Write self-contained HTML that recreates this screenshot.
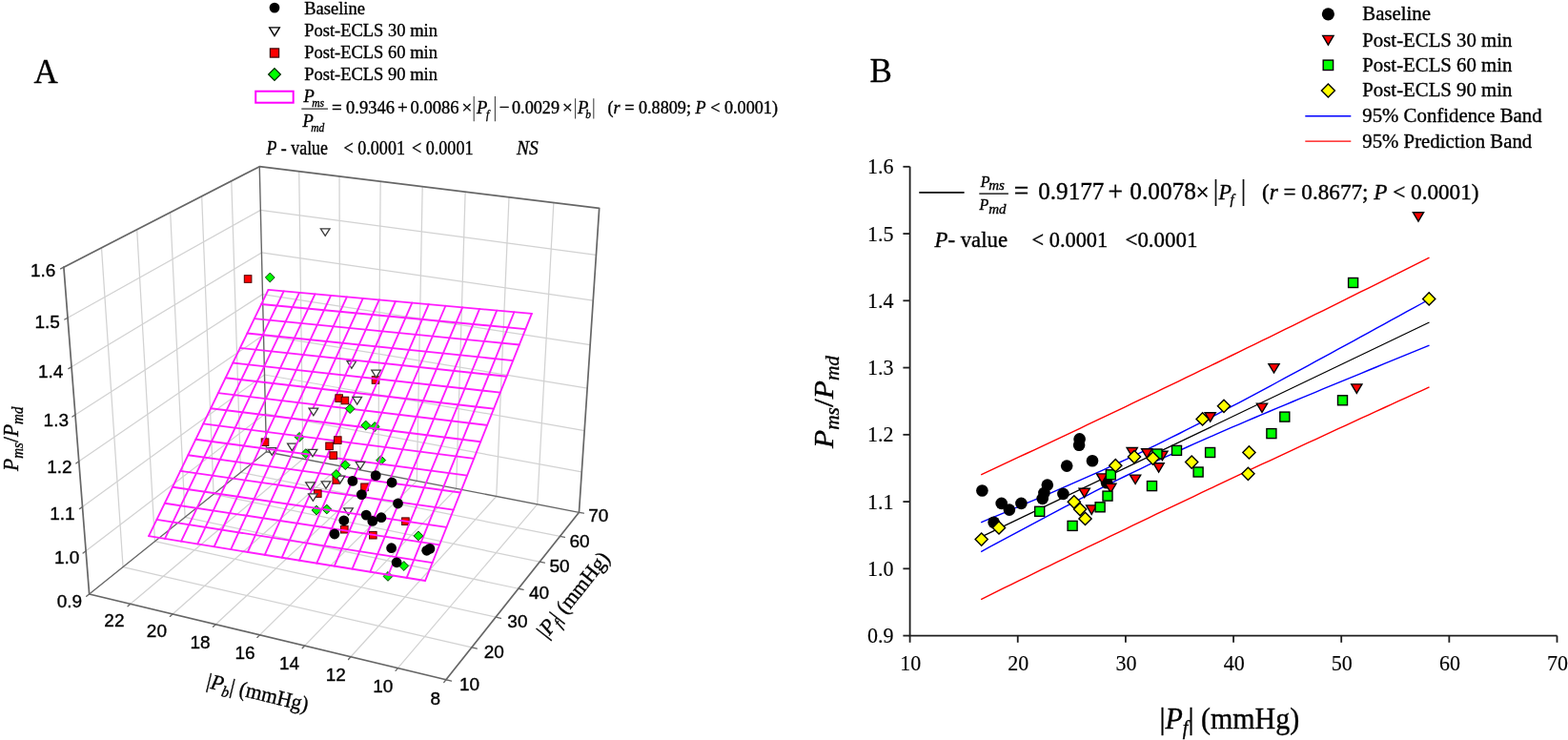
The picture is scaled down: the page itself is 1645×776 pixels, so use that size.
<!DOCTYPE html>
<html><head><meta charset="utf-8"><style>html,body{margin:0;padding:0;background:#fff}svg{display:block}</style></head>
<body><svg width="1645" height="776" viewBox="0 0 1645 776">
<rect width="1645" height="776" fill="#fff"/>
<style>text{stroke:#000;stroke-width:0.35px;paint-order:stroke}</style>
<g stroke-linecap="round">
<line x1="136.89" y1="633.35" x2="317.85" y2="481.18" stroke="#d2d2d2" stroke-width="1.25"/>
<line x1="181.10" y1="643.95" x2="356.94" y2="488.76" stroke="#d2d2d2" stroke-width="1.25"/>
<line x1="226.27" y1="654.79" x2="396.75" y2="496.47" stroke="#d2d2d2" stroke-width="1.25"/>
<line x1="272.45" y1="665.86" x2="437.31" y2="504.33" stroke="#d2d2d2" stroke-width="1.25"/>
<line x1="319.67" y1="677.19" x2="478.64" y2="512.33" stroke="#d2d2d2" stroke-width="1.25"/>
<line x1="367.96" y1="688.77" x2="520.76" y2="520.49" stroke="#d2d2d2" stroke-width="1.25"/>
<line x1="417.37" y1="700.62" x2="563.70" y2="528.81" stroke="#d2d2d2" stroke-width="1.25"/>
<line x1="129.06" y1="594.54" x2="494.82" y2="678.92" stroke="#d2d2d2" stroke-width="1.25"/>
<line x1="162.50" y1="567.68" x2="520.09" y2="647.16" stroke="#d2d2d2" stroke-width="1.25"/>
<line x1="194.13" y1="542.28" x2="543.86" y2="617.26" stroke="#d2d2d2" stroke-width="1.25"/>
<line x1="224.08" y1="518.23" x2="566.28" y2="589.08" stroke="#d2d2d2" stroke-width="1.25"/>
<line x1="252.49" y1="495.42" x2="587.45" y2="562.46" stroke="#d2d2d2" stroke-width="1.25"/>
<line x1="129.06" y1="594.54" x2="106.49" y2="259.84" stroke="#d2d2d2" stroke-width="1.25"/>
<line x1="162.50" y1="567.68" x2="143.68" y2="240.72" stroke="#d2d2d2" stroke-width="1.25"/>
<line x1="194.13" y1="542.28" x2="178.68" y2="222.74" stroke="#d2d2d2" stroke-width="1.25"/>
<line x1="224.08" y1="518.23" x2="211.66" y2="205.79" stroke="#d2d2d2" stroke-width="1.25"/>
<line x1="252.49" y1="495.42" x2="242.80" y2="189.78" stroke="#d2d2d2" stroke-width="1.25"/>
<line x1="90.11" y1="577.79" x2="278.51" y2="433.82" stroke="#d2d2d2" stroke-width="1.25"/>
<line x1="86.49" y1="531.42" x2="277.52" y2="393.00" stroke="#d2d2d2" stroke-width="1.25"/>
<line x1="82.78" y1="483.82" x2="276.52" y2="351.28" stroke="#d2d2d2" stroke-width="1.25"/>
<line x1="78.96" y1="434.96" x2="275.49" y2="308.61" stroke="#d2d2d2" stroke-width="1.25"/>
<line x1="75.05" y1="384.77" x2="274.43" y2="264.97" stroke="#d2d2d2" stroke-width="1.25"/>
<line x1="71.02" y1="333.20" x2="273.35" y2="220.33" stroke="#d2d2d2" stroke-width="1.25"/>
<line x1="317.85" y1="481.18" x2="313.72" y2="179.74" stroke="#d2d2d2" stroke-width="1.25"/>
<line x1="356.94" y1="488.76" x2="356.02" y2="184.93" stroke="#d2d2d2" stroke-width="1.25"/>
<line x1="396.75" y1="496.47" x2="399.17" y2="190.23" stroke="#d2d2d2" stroke-width="1.25"/>
<line x1="437.31" y1="504.33" x2="443.20" y2="195.63" stroke="#d2d2d2" stroke-width="1.25"/>
<line x1="478.64" y1="512.33" x2="488.14" y2="201.15" stroke="#d2d2d2" stroke-width="1.25"/>
<line x1="520.76" y1="520.49" x2="534.01" y2="206.78" stroke="#d2d2d2" stroke-width="1.25"/>
<line x1="563.70" y1="528.81" x2="580.85" y2="212.53" stroke="#d2d2d2" stroke-width="1.25"/>
<line x1="278.51" y1="433.82" x2="610.28" y2="494.95" stroke="#d2d2d2" stroke-width="1.25"/>
<line x1="277.52" y1="393.00" x2="613.17" y2="451.60" stroke="#d2d2d2" stroke-width="1.25"/>
<line x1="276.52" y1="351.28" x2="616.12" y2="407.20" stroke="#d2d2d2" stroke-width="1.25"/>
<line x1="275.49" y1="308.61" x2="619.14" y2="361.73" stroke="#d2d2d2" stroke-width="1.25"/>
<line x1="274.43" y1="264.97" x2="622.24" y2="315.13" stroke="#d2d2d2" stroke-width="1.25"/>
<line x1="273.35" y1="220.33" x2="625.42" y2="267.37" stroke="#d2d2d2" stroke-width="1.25"/>
<polyline points="66.88,280.19 93.64,622.98 467.92,712.75 607.47,537.29 628.68,218.40 272.25,174.65 66.88,280.19" fill="none" stroke="#666666" stroke-width="1.7" stroke-linejoin="round"/>
<line x1="93.64" y1="622.98" x2="279.47" y2="473.75" stroke="#666666" stroke-width="1.3"/>
<line x1="279.47" y1="473.75" x2="607.47" y2="537.29" stroke="#666666" stroke-width="1.3"/>
<line x1="279.47" y1="473.75" x2="272.25" y2="174.65" stroke="#666666" stroke-width="1.4"/>
<line x1="93.64" y1="622.98" x2="90.71" y2="625.33" stroke="#666666" stroke-width="1.3"/>
<line x1="90.11" y1="577.79" x2="87.14" y2="580.06" stroke="#666666" stroke-width="1.3"/>
<line x1="86.49" y1="531.42" x2="83.47" y2="533.60" stroke="#666666" stroke-width="1.3"/>
<line x1="82.78" y1="483.82" x2="79.71" y2="485.92" stroke="#666666" stroke-width="1.3"/>
<line x1="78.96" y1="434.96" x2="75.84" y2="436.96" stroke="#666666" stroke-width="1.3"/>
<line x1="75.05" y1="384.77" x2="71.88" y2="386.67" stroke="#666666" stroke-width="1.3"/>
<line x1="71.02" y1="333.20" x2="67.80" y2="335.00" stroke="#666666" stroke-width="1.3"/>
<line x1="66.88" y1="280.19" x2="63.60" y2="281.88" stroke="#666666" stroke-width="1.3"/>
<line x1="136.89" y1="633.35" x2="134.04" y2="635.75" stroke="#666666" stroke-width="1.3"/>
<line x1="181.10" y1="643.95" x2="178.32" y2="646.40" stroke="#666666" stroke-width="1.3"/>
<line x1="226.27" y1="654.79" x2="223.57" y2="657.29" stroke="#666666" stroke-width="1.3"/>
<line x1="272.45" y1="665.86" x2="269.84" y2="668.42" stroke="#666666" stroke-width="1.3"/>
<line x1="319.67" y1="677.19" x2="317.14" y2="679.80" stroke="#666666" stroke-width="1.3"/>
<line x1="367.96" y1="688.77" x2="365.53" y2="691.45" stroke="#666666" stroke-width="1.3"/>
<line x1="417.37" y1="700.62" x2="415.04" y2="703.36" stroke="#666666" stroke-width="1.3"/>
<line x1="467.92" y1="712.75" x2="465.70" y2="715.55" stroke="#666666" stroke-width="1.3"/>
<line x1="467.92" y1="712.75" x2="473.56" y2="714.10" stroke="#666666" stroke-width="1.3"/>
<line x1="494.82" y1="678.92" x2="500.31" y2="680.19" stroke="#666666" stroke-width="1.3"/>
<line x1="520.09" y1="647.16" x2="525.44" y2="648.35" stroke="#666666" stroke-width="1.3"/>
<line x1="543.86" y1="617.26" x2="549.09" y2="618.38" stroke="#666666" stroke-width="1.3"/>
<line x1="566.28" y1="589.08" x2="571.38" y2="590.13" stroke="#666666" stroke-width="1.3"/>
<line x1="587.45" y1="562.46" x2="592.43" y2="563.46" stroke="#666666" stroke-width="1.3"/>
<line x1="607.47" y1="537.29" x2="612.33" y2="538.23" stroke="#666666" stroke-width="1.3"/>
</g>
<path d="M364.10,378.70L373.70,378.70L368.90,386.30Z" fill="#fff" stroke="#3a3a3a" stroke-width="1.3" stroke-linejoin="miter"/>
<rect x="390.20" y="394.70" width="7.6" height="7.6" fill="#ff0000" stroke="#4a0000" stroke-width="1.0"/>
<rect x="274.20" y="459.90" width="7.6" height="7.6" fill="#ff0000" stroke="#4a0000" stroke-width="1.0"/>
<path d="M314.10,453.50L319.00,458.40L314.10,463.30L309.20,458.40Z" fill="#00ff00" stroke="#0a3a0a" stroke-width="1.0"/>
<path d="M301.60,465.10L311.20,465.10L306.40,472.70Z" fill="#fff" stroke="#3a3a3a" stroke-width="1.3" stroke-linejoin="miter"/>
<path d="M280.50,469.70L290.10,469.70L285.30,477.30Z" fill="#fff" stroke="#3a3a3a" stroke-width="1.3" stroke-linejoin="miter"/>
<path d="M320.80,470.70L325.70,475.60L320.80,480.50L315.90,475.60Z" fill="#00ff00" stroke="#0a3a0a" stroke-width="1.0"/>
<path d="M393.20,442.60L398.10,447.50L393.20,452.40L388.30,447.50Z" fill="#00ff00" stroke="#0a3a0a" stroke-width="1.0"/>
<path d="M399.70,477.70L404.60,482.60L399.70,487.50L394.80,482.60Z" fill="#00ff00" stroke="#0a3a0a" stroke-width="1.0"/>
<path d="M332.00,530.10L336.90,535.00L332.00,539.90L327.10,535.00Z" fill="#00ff00" stroke="#0a3a0a" stroke-width="1.0"/>
<path d="M342.80,529.10L347.70,534.00L342.80,538.90L337.90,534.00Z" fill="#00ff00" stroke="#0a3a0a" stroke-width="1.0"/>
<path d="M360.70,532.80L370.30,532.80L365.50,540.40Z" fill="#fff" stroke="#3a3a3a" stroke-width="1.3" stroke-linejoin="miter"/>
<rect x="421.60" y="542.90" width="7.6" height="7.6" fill="#ff0000" stroke="#4a0000" stroke-width="1.0"/>
<rect x="387.50" y="557.40" width="7.6" height="7.6" fill="#ff0000" stroke="#4a0000" stroke-width="1.0"/>
<path d="M407.00,599.50L411.90,604.40L407.00,609.30L402.10,604.40Z" fill="#00ff00" stroke="#0a3a0a" stroke-width="1.0"/>
<rect x="357.50" y="551.40" width="7.6" height="7.6" fill="#ff0000" stroke="#4a0000" stroke-width="1.0"/>
<rect x="378.70" y="507.00" width="7.6" height="7.6" fill="#ff0000" stroke="#4a0000" stroke-width="1.0"/>
<g stroke-linecap="round">
<line x1="156.07" y1="562.20" x2="281.50" y2="303.94" stroke="#ff1cff" stroke-width="1.85"/>
<line x1="446.08" y1="608.97" x2="156.07" y2="562.20" stroke="#ff1cff" stroke-width="1.85"/>
<line x1="172.99" y1="564.93" x2="297.71" y2="305.40" stroke="#ff1cff" stroke-width="1.85"/>
<line x1="453.61" y1="590.10" x2="164.48" y2="544.89" stroke="#ff1cff" stroke-width="1.85"/>
<line x1="190.05" y1="567.68" x2="314.05" y2="306.88" stroke="#ff1cff" stroke-width="1.85"/>
<line x1="461.06" y1="571.42" x2="172.81" y2="527.74" stroke="#ff1cff" stroke-width="1.85"/>
<line x1="207.27" y1="570.46" x2="330.52" y2="308.37" stroke="#ff1cff" stroke-width="1.85"/>
<line x1="468.44" y1="552.93" x2="181.06" y2="510.75" stroke="#ff1cff" stroke-width="1.85"/>
<line x1="224.65" y1="573.26" x2="347.13" y2="309.87" stroke="#ff1cff" stroke-width="1.85"/>
<line x1="475.75" y1="534.63" x2="189.23" y2="493.93" stroke="#ff1cff" stroke-width="1.85"/>
<line x1="242.18" y1="576.09" x2="363.88" y2="311.38" stroke="#ff1cff" stroke-width="1.85"/>
<line x1="482.97" y1="516.53" x2="197.32" y2="477.27" stroke="#ff1cff" stroke-width="1.85"/>
<line x1="259.87" y1="578.94" x2="380.77" y2="312.91" stroke="#ff1cff" stroke-width="1.85"/>
<line x1="490.13" y1="498.60" x2="205.34" y2="460.76" stroke="#ff1cff" stroke-width="1.85"/>
<line x1="277.73" y1="581.82" x2="397.81" y2="314.45" stroke="#ff1cff" stroke-width="1.85"/>
<line x1="497.21" y1="480.86" x2="213.28" y2="444.41" stroke="#ff1cff" stroke-width="1.85"/>
<line x1="295.75" y1="584.73" x2="414.98" y2="316.00" stroke="#ff1cff" stroke-width="1.85"/>
<line x1="504.22" y1="463.29" x2="221.14" y2="428.22" stroke="#ff1cff" stroke-width="1.85"/>
<line x1="313.93" y1="587.66" x2="432.31" y2="317.57" stroke="#ff1cff" stroke-width="1.85"/>
<line x1="511.16" y1="445.91" x2="228.94" y2="412.18" stroke="#ff1cff" stroke-width="1.85"/>
<line x1="332.28" y1="590.62" x2="449.78" y2="319.14" stroke="#ff1cff" stroke-width="1.85"/>
<line x1="518.03" y1="428.69" x2="236.66" y2="396.28" stroke="#ff1cff" stroke-width="1.85"/>
<line x1="350.81" y1="593.61" x2="467.41" y2="320.74" stroke="#ff1cff" stroke-width="1.85"/>
<line x1="524.83" y1="411.65" x2="244.30" y2="380.54" stroke="#ff1cff" stroke-width="1.85"/>
<line x1="369.50" y1="596.62" x2="485.19" y2="322.34" stroke="#ff1cff" stroke-width="1.85"/>
<line x1="531.57" y1="394.77" x2="251.88" y2="364.93" stroke="#ff1cff" stroke-width="1.85"/>
<line x1="388.38" y1="599.67" x2="503.12" y2="323.96" stroke="#ff1cff" stroke-width="1.85"/>
<line x1="538.24" y1="378.07" x2="259.39" y2="349.48" stroke="#ff1cff" stroke-width="1.85"/>
<line x1="407.43" y1="602.74" x2="521.21" y2="325.60" stroke="#ff1cff" stroke-width="1.85"/>
<line x1="544.84" y1="361.52" x2="266.83" y2="334.16" stroke="#ff1cff" stroke-width="1.85"/>
<line x1="426.66" y1="605.84" x2="539.45" y2="327.25" stroke="#ff1cff" stroke-width="1.85"/>
<line x1="551.38" y1="345.14" x2="274.20" y2="318.98" stroke="#ff1cff" stroke-width="1.85"/>
<line x1="446.08" y1="608.97" x2="557.86" y2="328.91" stroke="#ff1cff" stroke-width="1.85"/>
<line x1="557.86" y1="328.91" x2="281.50" y2="303.94" stroke="#ff1cff" stroke-width="1.85"/>
</g>
<path d="M336.40,239.80L346.00,239.80L341.20,247.40Z" fill="#fff" stroke="#3a3a3a" stroke-width="1.3" stroke-linejoin="miter"/>
<rect x="256.30" y="288.70" width="7.6" height="7.6" fill="#ff0000" stroke="#4a0000" stroke-width="1.0"/>
<path d="M283.30,286.10L288.20,291.00L283.30,295.90L278.40,291.00Z" fill="#00ff00" stroke="#0a3a0a" stroke-width="1.0"/>
<path d="M389.80,388.20L399.40,388.20L394.60,395.80Z" fill="#fff" stroke="#3a3a3a" stroke-width="1.3" stroke-linejoin="miter"/>
<rect x="351.90" y="413.80" width="7.6" height="7.6" fill="#ff0000" stroke="#4a0000" stroke-width="1.0"/>
<rect x="358.10" y="416.20" width="7.6" height="7.6" fill="#ff0000" stroke="#4a0000" stroke-width="1.0"/>
<path d="M369.90,416.40L379.50,416.40L374.70,424.00Z" fill="#fff" stroke="#3a3a3a" stroke-width="1.3" stroke-linejoin="miter"/>
<path d="M367.20,423.70L372.10,428.60L367.20,433.50L362.30,428.60Z" fill="#00ff00" stroke="#0a3a0a" stroke-width="1.0"/>
<path d="M324.10,428.20L333.70,428.20L328.90,435.80Z" fill="#fff" stroke="#3a3a3a" stroke-width="1.3" stroke-linejoin="miter"/>
<path d="M383.70,441.10L388.60,446.00L383.70,450.90L378.80,446.00Z" fill="#00ff00" stroke="#0a3a0a" stroke-width="1.0"/>
<rect x="350.50" y="457.80" width="7.6" height="7.6" fill="#ff0000" stroke="#4a0000" stroke-width="1.0"/>
<rect x="341.80" y="464.00" width="7.6" height="7.6" fill="#ff0000" stroke="#4a0000" stroke-width="1.0"/>
<rect x="345.90" y="473.80" width="7.6" height="7.6" fill="#ff0000" stroke="#4a0000" stroke-width="1.0"/>
<path d="M323.20,471.30L332.80,471.30L328.00,478.90Z" fill="#fff" stroke="#3a3a3a" stroke-width="1.3" stroke-linejoin="miter"/>
<path d="M362.30,482.80L367.20,487.70L362.30,492.60L357.40,487.70Z" fill="#00ff00" stroke="#0a3a0a" stroke-width="1.0"/>
<path d="M373.20,484.40L382.80,484.40L378.00,492.00Z" fill="#fff" stroke="#3a3a3a" stroke-width="1.3" stroke-linejoin="miter"/>
<rect x="349.00" y="499.60" width="7.6" height="7.6" fill="#ff0000" stroke="#4a0000" stroke-width="1.0"/>
<path d="M352.10,499.10L361.70,499.10L356.90,506.70Z" fill="#fff" stroke="#3a3a3a" stroke-width="1.3" stroke-linejoin="miter"/>
<path d="M352.80,492.60L357.70,497.50L352.80,502.40L347.90,497.50Z" fill="#00ff00" stroke="#0a3a0a" stroke-width="1.0"/>
<path d="M337.20,504.80L346.80,504.80L342.00,512.40Z" fill="#fff" stroke="#3a3a3a" stroke-width="1.3" stroke-linejoin="miter"/>
<path d="M320.70,505.80L330.30,505.80L325.50,513.40Z" fill="#fff" stroke="#3a3a3a" stroke-width="1.3" stroke-linejoin="miter"/>
<rect x="329.50" y="513.80" width="7.6" height="7.6" fill="#ff0000" stroke="#4a0000" stroke-width="1.0"/>
<path d="M323.60,517.80L333.20,517.80L328.40,525.40Z" fill="#fff" stroke="#3a3a3a" stroke-width="1.3" stroke-linejoin="miter"/>
<path d="M438.90,557.00L443.80,561.90L438.90,566.80L434.00,561.90Z" fill="#00ff00" stroke="#0a3a0a" stroke-width="1.0"/>
<path d="M423.80,588.60L428.70,593.50L423.80,598.40L418.90,593.50Z" fill="#00ff00" stroke="#0a3a0a" stroke-width="1.0"/>
<circle cx="369.9" cy="504.4" r="5.4" fill="#000"/>
<circle cx="394.2" cy="498.6" r="5.4" fill="#000"/>
<circle cx="411.1" cy="506.0" r="5.4" fill="#000"/>
<circle cx="379.4" cy="518.6" r="5.4" fill="#000"/>
<circle cx="417.5" cy="528.0" r="5.4" fill="#000"/>
<circle cx="384.2" cy="540.1" r="5.4" fill="#000"/>
<circle cx="390.8" cy="546.4" r="5.4" fill="#000"/>
<circle cx="400.0" cy="542.7" r="5.4" fill="#000"/>
<circle cx="360.8" cy="545.8" r="5.4" fill="#000"/>
<circle cx="351.0" cy="560.0" r="5.4" fill="#000"/>
<circle cx="410.6" cy="574.7" r="5.4" fill="#000"/>
<circle cx="447.7" cy="577.3" r="5.4" fill="#000"/>
<circle cx="450.9" cy="575.4" r="5.4" fill="#000"/>
<circle cx="416.1" cy="589.8" r="5.4" fill="#000"/>
<text x="58.40" y="290.20" font-family="Liberation Sans, Arial, sans-serif" font-size="19" text-anchor="end">1.6</text>
<text x="62.80" y="344.20" font-family="Liberation Sans, Arial, sans-serif" font-size="19" text-anchor="end">1.5</text>
<text x="66.30" y="396.40" font-family="Liberation Sans, Arial, sans-serif" font-size="19" text-anchor="end">1.4</text>
<text x="72.00" y="446.80" font-family="Liberation Sans, Arial, sans-serif" font-size="19" text-anchor="end">1.3</text>
<text x="75.70" y="496.40" font-family="Liberation Sans, Arial, sans-serif" font-size="19" text-anchor="end">1.2</text>
<text x="78.60" y="544.60" font-family="Liberation Sans, Arial, sans-serif" font-size="19" text-anchor="end">1.1</text>
<text x="83.40" y="591.40" font-family="Liberation Sans, Arial, sans-serif" font-size="19" text-anchor="end">1.0</text>
<text x="86.20" y="636.80" font-family="Liberation Sans, Arial, sans-serif" font-size="19" text-anchor="end">0.9</text>
<text x="119.90" y="657.40" font-family="Liberation Sans, Arial, sans-serif" font-size="19" text-anchor="middle">22</text>
<text x="164.40" y="668.30" font-family="Liberation Sans, Arial, sans-serif" font-size="19" text-anchor="middle">20</text>
<text x="210.10" y="679.50" font-family="Liberation Sans, Arial, sans-serif" font-size="19" text-anchor="middle">18</text>
<text x="257.00" y="690.70" font-family="Liberation Sans, Arial, sans-serif" font-size="19" text-anchor="middle">16</text>
<text x="303.50" y="702.10" font-family="Liberation Sans, Arial, sans-serif" font-size="19" text-anchor="middle">14</text>
<text x="352.30" y="714.30" font-family="Liberation Sans, Arial, sans-serif" font-size="19" text-anchor="middle">12</text>
<text x="401.80" y="726.00" font-family="Liberation Sans, Arial, sans-serif" font-size="19" text-anchor="middle">10</text>
<text x="456.90" y="738.60" font-family="Liberation Sans, Arial, sans-serif" font-size="19" text-anchor="middle">8</text>
<text x="492.60" y="723.60" font-family="Liberation Sans, Arial, sans-serif" font-size="19" text-anchor="middle">10</text>
<text x="518.20" y="689.90" font-family="Liberation Sans, Arial, sans-serif" font-size="19" text-anchor="middle">20</text>
<text x="542.90" y="657.50" font-family="Liberation Sans, Arial, sans-serif" font-size="19" text-anchor="middle">30</text>
<text x="565.50" y="627.70" font-family="Liberation Sans, Arial, sans-serif" font-size="19" text-anchor="middle">40</text>
<text x="587.10" y="599.80" font-family="Liberation Sans, Arial, sans-serif" font-size="19" text-anchor="middle">50</text>
<text x="608.00" y="573.60" font-family="Liberation Sans, Arial, sans-serif" font-size="19" text-anchor="middle">60</text>
<text x="627.80" y="547.20" font-family="Liberation Sans, Arial, sans-serif" font-size="19" text-anchor="middle">70</text>
<text transform="translate(18.9,494) rotate(-90)" font-family="Liberation Serif, Times New Roman, serif" font-size="23" font-style="italic" textLength="67.5" lengthAdjust="spacingAndGlyphs">P<tspan font-size="16" dy="5">ms</tspan><tspan font-style="normal" dy="-5">/</tspan>P<tspan font-size="16" dy="5">md</tspan></text>
<text transform="translate(215.8,720.8) rotate(13.5)" font-family="Liberation Serif, Times New Roman, serif" font-size="22.5" textLength="109" lengthAdjust="spacingAndGlyphs">|<tspan font-style="italic">P</tspan><tspan font-style="italic" font-size="16" dy="5">b</tspan><tspan dy="-5">| (mmHg)</tspan></text>
<text transform="translate(573.5,670.5) rotate(-51.5)" font-family="Liberation Serif, Times New Roman, serif" font-size="22.5" textLength="108" lengthAdjust="spacingAndGlyphs">|<tspan font-style="italic">P</tspan><tspan font-style="italic" font-size="16" dy="5">f</tspan><tspan dy="-5">| (mmHg)</tspan></text>
<text transform="translate(35.50,86.90) scale(1,1.04)" font-family="Liberation Serif, Times New Roman, serif" font-size="35" text-anchor="start">A</text>
<circle cx="288.0" cy="8.1" r="5.4" fill="#000"/>
<path d="M282.70,28.90L293.30,28.90L288.00,37.70Z" fill="#fff" stroke="#000" stroke-width="1.4" stroke-linejoin="miter"/>
<rect x="283.40" y="50.90" width="9.2" height="9.2" fill="#ff0000" stroke="#3a0000" stroke-width="1.2"/>
<path d="M288.00,71.60L294.40,78.00L288.00,84.40L281.60,78.00Z" fill="#00ff00" stroke="#002800" stroke-width="1.2"/>
<text transform="translate(319.20,14.80) scale(1,1.04)" font-family="Liberation Serif, Times New Roman, serif" font-size="18.5" text-anchor="start">Baseline</text>
<text transform="translate(319.20,37.80) scale(1,1.04)" font-family="Liberation Serif, Times New Roman, serif" font-size="18.5" text-anchor="start">Post-ECLS 30 min</text>
<text transform="translate(319.20,60.80) scale(1,1.04)" font-family="Liberation Serif, Times New Roman, serif" font-size="18.5" text-anchor="start">Post-ECLS 60 min</text>
<text transform="translate(319.20,83.90) scale(1,1.04)" font-family="Liberation Serif, Times New Roman, serif" font-size="18.5" text-anchor="start">Post-ECLS 90 min</text>
<rect x="268.2" y="95.7" width="39.5" height="12" fill="none" stroke="#ff00ff" stroke-width="2"/>
<text transform="translate(318.50,107.00) scale(1,1.04)" font-family="Liberation Serif, Times New Roman, serif" font-size="18.5" text-anchor="start" font-style="italic">P</text>
<text transform="translate(327.30,111.80) scale(1,1.04)" font-family="Liberation Serif, Times New Roman, serif" font-size="11.5" text-anchor="start" font-style="italic">ms</text>
<line x1="316.3" y1="114.1" x2="344" y2="114.1" stroke="#000" stroke-width="1"/>
<text transform="translate(317.60,133.20) scale(1,1.04)" font-family="Liberation Serif, Times New Roman, serif" font-size="18.5" text-anchor="start" font-style="italic">P</text>
<text transform="translate(326.30,138.00) scale(1,1.04)" font-family="Liberation Serif, Times New Roman, serif" font-size="11.5" text-anchor="start" font-style="italic">md</text>
<text transform="translate(348.00,119.10) scale(1,1.04)" font-family="Liberation Serif, Times New Roman, serif" font-size="19" text-anchor="start">=</text>
<text transform="translate(363.00,119.10) scale(1,1.04)" font-family="Liberation Serif, Times New Roman, serif" font-size="19" text-anchor="start" textLength="51.0" lengthAdjust="spacingAndGlyphs">0.9346</text>
<text transform="translate(417.00,119.10) scale(1,1.04)" font-family="Liberation Serif, Times New Roman, serif" font-size="19" text-anchor="start">+</text>
<text transform="translate(430.60,119.10) scale(1,1.04)" font-family="Liberation Serif, Times New Roman, serif" font-size="19" text-anchor="start" textLength="51.0" lengthAdjust="spacingAndGlyphs">0.0086</text>
<text transform="translate(484.50,119.10) scale(1,1.04)" font-family="Liberation Serif, Times New Roman, serif" font-size="19" text-anchor="start">×</text>
<line x1="497.2" y1="101" x2="497.2" y2="127.3" stroke="#444" stroke-width="1.1"/>
<line x1="519.4" y1="101" x2="519.4" y2="127.3" stroke="#444" stroke-width="1.1"/>
<text transform="translate(500.00,118.50) scale(1,1.04)" font-family="Liberation Serif, Times New Roman, serif" font-size="18.5" text-anchor="start" font-style="italic">P</text>
<text transform="translate(510.00,123.50) scale(1,1.04)" font-family="Liberation Serif, Times New Roman, serif" font-size="11.5" text-anchor="start" font-style="italic">f</text>
<text transform="translate(523.80,119.10) scale(1,1.04)" font-family="Liberation Serif, Times New Roman, serif" font-size="19" text-anchor="start">−</text>
<text transform="translate(537.00,119.10) scale(1,1.04)" font-family="Liberation Serif, Times New Roman, serif" font-size="19" text-anchor="start" textLength="50.0" lengthAdjust="spacingAndGlyphs">0.0029</text>
<text transform="translate(590.00,119.10) scale(1,1.04)" font-family="Liberation Serif, Times New Roman, serif" font-size="19" text-anchor="start">×</text>
<line x1="603.6" y1="103.2" x2="603.6" y2="124.5" stroke="#444" stroke-width="1.1"/>
<line x1="622.8" y1="103.2" x2="622.8" y2="124.5" stroke="#444" stroke-width="1.1"/>
<text transform="translate(606.00,118.50) scale(1,1.04)" font-family="Liberation Serif, Times New Roman, serif" font-size="18.5" text-anchor="start" font-style="italic">P</text>
<text transform="translate(614.20,124.00) scale(1,1.04)" font-family="Liberation Serif, Times New Roman, serif" font-size="11.5" text-anchor="start" font-style="italic">b</text>
<text transform="translate(637.5,119.1) scale(1,1.04)" font-family="Liberation Serif, Times New Roman, serif" font-size="19" textLength="178.5" lengthAdjust="spacingAndGlyphs">(<tspan font-style="italic">r</tspan> = 0.8809; <tspan font-style="italic">P</tspan> &lt; 0.0001)</text>
<text transform="translate(279.5,162.2) scale(1,1.04)" font-family="Liberation Serif, Times New Roman, serif" font-size="19.5" textLength="64.5" lengthAdjust="spacingAndGlyphs"><tspan font-style="italic">P</tspan> - value</text>
<text transform="translate(360.50,162.20) scale(1,1.04)" font-family="Liberation Serif, Times New Roman, serif" font-size="19.5" text-anchor="start" textLength="64.5" lengthAdjust="spacingAndGlyphs">&lt; 0.0001</text>
<text transform="translate(432.00,162.20) scale(1,1.04)" font-family="Liberation Serif, Times New Roman, serif" font-size="19.5" text-anchor="start" textLength="64.5" lengthAdjust="spacingAndGlyphs">&lt; 0.0001</text>
<text transform="translate(542.00,162.20) scale(1,1.04)" font-family="Liberation Serif, Times New Roman, serif" font-size="19.5" text-anchor="start" font-style="italic">NS</text>
<polyline points="1029.20,497.79 1037.17,494.09 1045.14,490.38 1053.11,486.67 1061.08,482.96 1069.06,479.23 1077.03,475.50 1085.00,471.77 1092.97,468.03 1100.94,464.29 1108.91,460.54 1116.88,456.78 1124.85,453.02 1132.83,449.26 1140.80,445.48 1148.77,441.71 1156.74,437.92 1164.71,434.13 1172.68,430.34 1180.65,426.54 1188.62,422.73 1196.59,418.92 1204.57,415.10 1212.54,411.28 1220.51,407.45 1228.48,403.62 1236.45,399.78 1244.42,395.94 1252.39,392.09 1260.36,388.23 1268.34,384.37 1276.31,380.50 1284.28,376.63 1292.25,372.75 1300.22,368.86 1308.19,364.98 1316.16,361.08 1324.13,357.18 1332.11,353.27 1340.08,349.36 1348.05,345.45 1356.02,341.52 1363.99,337.60 1371.96,333.66 1379.93,329.73 1387.90,325.78 1395.87,321.83 1403.85,317.88 1411.82,313.92 1419.79,309.96 1427.76,305.99 1435.73,302.01 1443.70,298.04 1451.67,294.05 1459.64,290.06 1467.62,286.07 1475.59,282.07 1483.56,278.06 1491.53,274.06 1499.50,270.04" fill="none" stroke="#ff0000" stroke-width="1.4" stroke-linejoin="round"/>
<polyline points="1029.20,628.51 1037.17,624.58 1045.14,620.66 1053.11,616.74 1061.08,612.82 1069.06,608.91 1077.03,605.01 1085.00,601.11 1092.97,597.21 1100.94,593.33 1108.91,589.44 1116.88,585.57 1124.85,581.70 1132.83,577.83 1140.80,573.97 1148.77,570.12 1156.74,566.27 1164.71,562.42 1172.68,558.59 1180.65,554.76 1188.62,550.93 1196.59,547.11 1204.57,543.29 1212.54,539.48 1220.51,535.68 1228.48,531.88 1236.45,528.09 1244.42,524.30 1252.39,520.52 1260.36,516.74 1268.34,512.97 1276.31,509.21 1284.28,505.45 1292.25,501.70 1300.22,497.95 1308.19,494.20 1316.16,490.47 1324.13,486.74 1332.11,483.01 1340.08,479.29 1348.05,475.57 1356.02,471.86 1363.99,468.16 1371.96,464.46 1379.93,460.77 1387.90,457.08 1395.87,453.39 1403.85,449.71 1411.82,446.04 1419.79,442.37 1427.76,438.71 1435.73,435.05 1443.70,431.40 1451.67,427.75 1459.64,424.11 1467.62,420.47 1475.59,416.84 1483.56,413.21 1491.53,409.58 1499.50,405.97" fill="none" stroke="#ff0000" stroke-width="1.4" stroke-linejoin="round"/>
<polyline points="1029.20,547.78 1037.17,544.46 1045.14,541.14 1053.11,537.80 1061.08,534.46 1069.06,531.10 1077.03,527.73 1085.00,524.35 1092.97,520.95 1100.94,517.54 1108.91,514.11 1116.88,510.66 1124.85,507.18 1132.83,503.69 1140.80,500.16 1148.77,496.61 1156.74,493.02 1164.71,489.40 1172.68,485.74 1180.65,482.04 1188.62,478.30 1196.59,474.52 1204.57,470.70 1212.54,466.84 1220.51,462.93 1228.48,458.98 1236.45,455.00 1244.42,450.98 1252.39,446.92 1260.36,442.83 1268.34,438.72 1276.31,434.57 1284.28,430.41 1292.25,426.22 1300.22,422.01 1308.19,417.79 1316.16,413.55 1324.13,409.29 1332.11,405.03 1340.08,400.75 1348.05,396.46 1356.02,392.16 1363.99,387.85 1371.96,383.54 1379.93,379.21 1387.90,374.89 1395.87,370.55 1403.85,366.21 1411.82,361.87 1419.79,357.52 1427.76,353.17 1435.73,348.81 1443.70,344.45 1451.67,340.09 1459.64,335.72 1467.62,331.36 1475.59,326.98 1483.56,322.61 1491.53,318.24 1499.50,313.86" fill="none" stroke="#0000ff" stroke-width="1.4" stroke-linejoin="round"/>
<polyline points="1029.20,578.52 1037.17,574.21 1045.14,569.90 1053.11,565.61 1061.08,561.32 1069.06,557.04 1077.03,552.78 1085.00,548.53 1092.97,544.29 1100.94,540.08 1108.91,535.87 1116.88,531.69 1124.85,527.53 1132.83,523.40 1140.80,519.29 1148.77,515.22 1156.74,511.17 1164.71,507.16 1172.68,503.19 1180.65,499.25 1188.62,495.36 1196.59,491.51 1204.57,487.70 1212.54,483.93 1220.51,480.20 1228.48,476.52 1236.45,472.87 1244.42,469.26 1252.39,465.69 1260.36,462.14 1268.34,458.62 1276.31,455.13 1284.28,451.67 1292.25,448.22 1300.22,444.80 1308.19,441.39 1316.16,438.00 1324.13,434.62 1332.11,431.26 1340.08,427.90 1348.05,424.56 1356.02,421.23 1363.99,417.90 1371.96,414.59 1379.93,411.28 1387.90,407.97 1395.87,404.68 1403.85,401.38 1411.82,398.09 1419.79,394.81 1427.76,391.53 1435.73,388.26 1443.70,384.98 1451.67,381.71 1459.64,378.45 1467.62,375.18 1475.59,371.92 1483.56,368.66 1491.53,365.40 1499.50,362.15" fill="none" stroke="#0000ff" stroke-width="1.4" stroke-linejoin="round"/>
<line x1="1029.20" y1="563.15" x2="1499.50" y2="338.00" stroke="#000" stroke-width="1.3"/>
<path d="M954.6,174.8V666.6H1633.5" fill="none" stroke="#1e1e1e" stroke-width="1.8"/>
<line x1="947.4" y1="666.60" x2="954.6" y2="666.60" stroke="#1e1e1e" stroke-width="1.8"/>
<text transform="translate(937.60,674.20) scale(1,1.04)" font-family="Liberation Serif, Times New Roman, serif" font-size="22" text-anchor="end" style="stroke-width:0.15px">0.9</text>
<line x1="947.4" y1="596.34" x2="954.6" y2="596.34" stroke="#1e1e1e" stroke-width="1.8"/>
<text transform="translate(937.60,603.94) scale(1,1.04)" font-family="Liberation Serif, Times New Roman, serif" font-size="22" text-anchor="end" style="stroke-width:0.15px">1.0</text>
<line x1="947.4" y1="526.09" x2="954.6" y2="526.09" stroke="#1e1e1e" stroke-width="1.8"/>
<text transform="translate(937.60,533.69) scale(1,1.04)" font-family="Liberation Serif, Times New Roman, serif" font-size="22" text-anchor="end" style="stroke-width:0.15px">1.1</text>
<line x1="947.4" y1="455.83" x2="954.6" y2="455.83" stroke="#1e1e1e" stroke-width="1.8"/>
<text transform="translate(937.60,463.43) scale(1,1.04)" font-family="Liberation Serif, Times New Roman, serif" font-size="22" text-anchor="end" style="stroke-width:0.15px">1.2</text>
<line x1="947.4" y1="385.57" x2="954.6" y2="385.57" stroke="#1e1e1e" stroke-width="1.8"/>
<text transform="translate(937.60,393.17) scale(1,1.04)" font-family="Liberation Serif, Times New Roman, serif" font-size="22" text-anchor="end" style="stroke-width:0.15px">1.3</text>
<line x1="947.4" y1="315.31" x2="954.6" y2="315.31" stroke="#1e1e1e" stroke-width="1.8"/>
<text transform="translate(937.60,322.91) scale(1,1.04)" font-family="Liberation Serif, Times New Roman, serif" font-size="22" text-anchor="end" style="stroke-width:0.15px">1.4</text>
<line x1="947.4" y1="245.06" x2="954.6" y2="245.06" stroke="#1e1e1e" stroke-width="1.8"/>
<text transform="translate(937.60,252.66) scale(1,1.04)" font-family="Liberation Serif, Times New Roman, serif" font-size="22" text-anchor="end" style="stroke-width:0.15px">1.5</text>
<line x1="947.4" y1="174.80" x2="954.6" y2="174.80" stroke="#1e1e1e" stroke-width="1.8"/>
<text transform="translate(937.60,182.40) scale(1,1.04)" font-family="Liberation Serif, Times New Roman, serif" font-size="22" text-anchor="end" style="stroke-width:0.15px">1.6</text>
<line x1="954.60" y1="666.6" x2="954.60" y2="673.8000000000001" stroke="#1e1e1e" stroke-width="1.8"/>
<text transform="translate(955.20,703.40) scale(1,1.04)" font-family="Liberation Serif, Times New Roman, serif" font-size="22" text-anchor="middle" style="stroke-width:0.15px">10</text>
<line x1="1067.75" y1="666.6" x2="1067.75" y2="673.8000000000001" stroke="#1e1e1e" stroke-width="1.8"/>
<text transform="translate(1068.35,703.40) scale(1,1.04)" font-family="Liberation Serif, Times New Roman, serif" font-size="22" text-anchor="middle" style="stroke-width:0.15px">20</text>
<line x1="1180.90" y1="666.6" x2="1180.90" y2="673.8000000000001" stroke="#1e1e1e" stroke-width="1.8"/>
<text transform="translate(1181.50,703.40) scale(1,1.04)" font-family="Liberation Serif, Times New Roman, serif" font-size="22" text-anchor="middle" style="stroke-width:0.15px">30</text>
<line x1="1294.05" y1="666.6" x2="1294.05" y2="673.8000000000001" stroke="#1e1e1e" stroke-width="1.8"/>
<text transform="translate(1294.65,703.40) scale(1,1.04)" font-family="Liberation Serif, Times New Roman, serif" font-size="22" text-anchor="middle" style="stroke-width:0.15px">40</text>
<line x1="1407.20" y1="666.6" x2="1407.20" y2="673.8000000000001" stroke="#1e1e1e" stroke-width="1.8"/>
<text transform="translate(1407.80,703.40) scale(1,1.04)" font-family="Liberation Serif, Times New Roman, serif" font-size="22" text-anchor="middle" style="stroke-width:0.15px">50</text>
<line x1="1520.35" y1="666.6" x2="1520.35" y2="673.8000000000001" stroke="#1e1e1e" stroke-width="1.8"/>
<text transform="translate(1520.95,703.40) scale(1,1.04)" font-family="Liberation Serif, Times New Roman, serif" font-size="22" text-anchor="middle" style="stroke-width:0.15px">60</text>
<line x1="1633.50" y1="666.6" x2="1633.50" y2="673.8000000000001" stroke="#1e1e1e" stroke-width="1.8"/>
<text transform="translate(1634.10,703.40) scale(1,1.04)" font-family="Liberation Serif, Times New Roman, serif" font-size="22" text-anchor="middle" style="stroke-width:0.15px">70</text>
<circle cx="1030.4" cy="514.5" r="6.3" fill="#000"/>
<circle cx="1042.6" cy="547.7" r="6.3" fill="#000"/>
<circle cx="1050.7" cy="527.9" r="6.3" fill="#000"/>
<circle cx="1058.9" cy="534.6" r="6.3" fill="#000"/>
<circle cx="1071.4" cy="527.9" r="6.3" fill="#000"/>
<circle cx="1093.7" cy="522.9" r="6.3" fill="#000"/>
<circle cx="1095.4" cy="517.0" r="6.3" fill="#000"/>
<circle cx="1098.8" cy="508.6" r="6.3" fill="#000"/>
<circle cx="1115.4" cy="517.9" r="6.3" fill="#000"/>
<circle cx="1119.2" cy="488.6" r="6.3" fill="#000"/>
<circle cx="1132.6" cy="460.4" r="6.3" fill="#000"/>
<circle cx="1132.1" cy="466.8" r="6.3" fill="#000"/>
<circle cx="1146.0" cy="483.2" r="6.3" fill="#000"/>
<circle cx="1161.1" cy="506.2" r="6.3" fill="#000"/>
<path d="M1132.10,512.30L1143.30,512.30L1137.70,521.70Z" fill="#ff0000" stroke="#000" stroke-width="1.4" stroke-linejoin="miter"/>
<path d="M1139.60,529.90L1150.80,529.90L1145.20,539.30Z" fill="#ff0000" stroke="#000" stroke-width="1.4" stroke-linejoin="miter"/>
<path d="M1150.50,496.90L1161.70,496.90L1156.10,506.30Z" fill="#ff0000" stroke="#000" stroke-width="1.4" stroke-linejoin="miter"/>
<path d="M1159.70,507.30L1170.90,507.30L1165.30,516.70Z" fill="#ff0000" stroke="#000" stroke-width="1.4" stroke-linejoin="miter"/>
<path d="M1182.10,469.50L1193.30,469.50L1187.70,478.90Z" fill="#ff0000" stroke="#000" stroke-width="1.4" stroke-linejoin="miter"/>
<path d="M1185.50,498.10L1196.70,498.10L1191.10,507.50Z" fill="#ff0000" stroke="#000" stroke-width="1.4" stroke-linejoin="miter"/>
<path d="M1197.60,470.80L1208.80,470.80L1203.20,480.20Z" fill="#ff0000" stroke="#000" stroke-width="1.4" stroke-linejoin="miter"/>
<path d="M1213.80,473.30L1225.00,473.30L1219.40,482.70Z" fill="#ff0000" stroke="#000" stroke-width="1.4" stroke-linejoin="miter"/>
<path d="M1210.00,485.80L1221.20,485.80L1215.60,495.20Z" fill="#ff0000" stroke="#000" stroke-width="1.4" stroke-linejoin="miter"/>
<path d="M1264.10,432.80L1275.30,432.80L1269.70,442.20Z" fill="#ff0000" stroke="#000" stroke-width="1.4" stroke-linejoin="miter"/>
<path d="M1318.40,423.10L1329.60,423.10L1324.00,432.50Z" fill="#ff0000" stroke="#000" stroke-width="1.4" stroke-linejoin="miter"/>
<path d="M1330.90,381.60L1342.10,381.60L1336.50,391.00Z" fill="#ff0000" stroke="#000" stroke-width="1.4" stroke-linejoin="miter"/>
<path d="M1417.70,402.90L1428.90,402.90L1423.30,412.30Z" fill="#ff0000" stroke="#000" stroke-width="1.4" stroke-linejoin="miter"/>
<path d="M1482.40,222.70L1493.60,222.70L1488.00,232.10Z" fill="#ff0000" stroke="#000" stroke-width="1.4" stroke-linejoin="miter"/>
<rect x="1085.70" y="531.30" width="10.0" height="10.0" fill="#00ff00" stroke="#000" stroke-width="1.4"/>
<rect x="1120.10" y="546.40" width="10.0" height="10.0" fill="#00ff00" stroke="#000" stroke-width="1.4"/>
<rect x="1149.10" y="526.80" width="10.0" height="10.0" fill="#00ff00" stroke="#000" stroke-width="1.4"/>
<rect x="1157.00" y="515.10" width="10.0" height="10.0" fill="#00ff00" stroke="#000" stroke-width="1.4"/>
<rect x="1160.30" y="492.80" width="10.0" height="10.0" fill="#00ff00" stroke="#000" stroke-width="1.4"/>
<rect x="1203.50" y="504.60" width="10.0" height="10.0" fill="#00ff00" stroke="#000" stroke-width="1.4"/>
<rect x="1209.00" y="471.00" width="10.0" height="10.0" fill="#00ff00" stroke="#000" stroke-width="1.4"/>
<rect x="1229.50" y="467.40" width="10.0" height="10.0" fill="#00ff00" stroke="#000" stroke-width="1.4"/>
<rect x="1252.10" y="490.00" width="10.0" height="10.0" fill="#00ff00" stroke="#000" stroke-width="1.4"/>
<rect x="1264.60" y="469.50" width="10.0" height="10.0" fill="#00ff00" stroke="#000" stroke-width="1.4"/>
<rect x="1328.90" y="449.60" width="10.0" height="10.0" fill="#00ff00" stroke="#000" stroke-width="1.4"/>
<rect x="1342.80" y="432.10" width="10.0" height="10.0" fill="#00ff00" stroke="#000" stroke-width="1.4"/>
<rect x="1403.50" y="414.80" width="10.0" height="10.0" fill="#00ff00" stroke="#000" stroke-width="1.4"/>
<rect x="1414.60" y="291.50" width="10.0" height="10.0" fill="#00ff00" stroke="#000" stroke-width="1.4"/>
<path d="M1029.70,559.00L1036.30,565.60L1029.70,572.20L1023.10,565.60Z" fill="#ffff00" stroke="#000" stroke-width="1.4"/>
<path d="M1048.00,546.80L1054.60,553.40L1048.00,560.00L1041.40,553.40Z" fill="#ffff00" stroke="#000" stroke-width="1.4"/>
<path d="M1126.80,519.70L1133.40,526.30L1126.80,532.90L1120.20,526.30Z" fill="#ffff00" stroke="#000" stroke-width="1.4"/>
<path d="M1133.10,527.50L1139.70,534.10L1133.10,540.70L1126.50,534.10Z" fill="#ffff00" stroke="#000" stroke-width="1.4"/>
<path d="M1138.50,537.30L1145.10,543.90L1138.50,550.50L1131.90,543.90Z" fill="#ffff00" stroke="#000" stroke-width="1.4"/>
<path d="M1170.30,481.60L1176.90,488.20L1170.30,494.80L1163.70,488.20Z" fill="#ffff00" stroke="#000" stroke-width="1.4"/>
<path d="M1190.00,472.50L1196.60,479.10L1190.00,485.70L1183.40,479.10Z" fill="#ffff00" stroke="#000" stroke-width="1.4"/>
<path d="M1209.50,474.00L1216.10,480.60L1209.50,487.20L1202.90,480.60Z" fill="#ffff00" stroke="#000" stroke-width="1.4"/>
<path d="M1250.20,478.00L1256.80,484.60L1250.20,491.20L1243.60,484.60Z" fill="#ffff00" stroke="#000" stroke-width="1.4"/>
<path d="M1261.60,432.80L1268.20,439.40L1261.60,446.00L1255.00,439.40Z" fill="#ffff00" stroke="#000" stroke-width="1.4"/>
<path d="M1284.00,419.20L1290.60,425.80L1284.00,432.40L1277.40,425.80Z" fill="#ffff00" stroke="#000" stroke-width="1.4"/>
<path d="M1310.40,467.80L1317.00,474.40L1310.40,481.00L1303.80,474.40Z" fill="#ffff00" stroke="#000" stroke-width="1.4"/>
<path d="M1309.40,490.20L1316.00,496.80L1309.40,503.40L1302.80,496.80Z" fill="#ffff00" stroke="#000" stroke-width="1.4"/>
<path d="M1499.20,306.80L1505.80,313.40L1499.20,320.00L1492.60,313.40Z" fill="#ffff00" stroke="#000" stroke-width="1.4"/>
<text transform="translate(874,470) rotate(-90)" font-family="Liberation Serif, Times New Roman, serif" font-size="29.5" font-style="italic" textLength="97" lengthAdjust="spacingAndGlyphs">P<tspan font-size="20" dy="6">ms</tspan><tspan font-style="normal" dy="-6">/</tspan>P<tspan font-size="20" dy="6">md</tspan></text>
<text transform="translate(1216.5,763.6) scale(1,1.04)" font-family="Liberation Serif, Times New Roman, serif" font-size="30">|<tspan font-style="italic">P</tspan><tspan font-style="italic" font-size="20" dy="6">f</tspan><tspan dy="-6">| (mmHg)</tspan></text>
<text transform="translate(912.50,85.80) scale(1,1.04)" font-family="Liberation Serif, Times New Roman, serif" font-size="35" text-anchor="start">B</text>
<circle cx="1393.4" cy="14.8" r="6.6" fill="#000"/>
<path d="M1387.70,37.40L1399.10,37.40L1393.40,47.20Z" fill="#ff0000" stroke="#000" stroke-width="1.4" stroke-linejoin="miter"/>
<rect x="1388.20" y="63.10" width="10.4" height="10.4" fill="#00ff00" stroke="#000" stroke-width="1.4"/>
<path d="M1393.40,88.10L1400.40,95.10L1393.40,102.10L1386.40,95.10Z" fill="#ffff00" stroke="#000" stroke-width="1.4"/>
<line x1="1369.30" y1="121.70" x2="1417.30" y2="121.70" stroke="#0000ff" stroke-width="1.4"/>
<line x1="1369.30" y1="148.10" x2="1417.30" y2="148.10" stroke="#ff0000" stroke-width="1.4"/>
<text transform="translate(1429.30,21.20) scale(1,1.04)" font-family="Liberation Serif, Times New Roman, serif" font-size="20.8" text-anchor="start">Baseline</text>
<text transform="translate(1429.30,48.50) scale(1,1.04)" font-family="Liberation Serif, Times New Roman, serif" font-size="20.8" text-anchor="start">Post-ECLS 30 min</text>
<text transform="translate(1429.30,74.80) scale(1,1.04)" font-family="Liberation Serif, Times New Roman, serif" font-size="20.8" text-anchor="start">Post-ECLS 60 min</text>
<text transform="translate(1429.30,101.10) scale(1,1.04)" font-family="Liberation Serif, Times New Roman, serif" font-size="20.8" text-anchor="start">Post-ECLS 90 min</text>
<text transform="translate(1429.30,128.00) scale(1,1.04)" font-family="Liberation Serif, Times New Roman, serif" font-size="20.8" text-anchor="start">95% Confidence Band</text>
<text transform="translate(1429.30,154.70) scale(1,1.04)" font-family="Liberation Serif, Times New Roman, serif" font-size="20.8" text-anchor="start">95% Prediction Band</text>
<line x1="964.30" y1="201.90" x2="1011.60" y2="201.90" stroke="#000" stroke-width="1.6"/>
<text transform="translate(1028.80,195.50) scale(1,1.04)" font-family="Liberation Serif, Times New Roman, serif" font-size="16" text-anchor="start" font-style="italic">P</text>
<text transform="translate(1037.20,198.90) scale(1,1.04)" font-family="Liberation Serif, Times New Roman, serif" font-size="15" text-anchor="start" font-style="italic">ms</text>
<line x1="1027.3" y1="203.1" x2="1057.9" y2="203.1" stroke="#000" stroke-width="1.3"/>
<text transform="translate(1027.50,220.30) scale(1,1.04)" font-family="Liberation Serif, Times New Roman, serif" font-size="16" text-anchor="start" font-style="italic">P</text>
<text transform="translate(1037.20,223.70) scale(1,1.04)" font-family="Liberation Serif, Times New Roman, serif" font-size="15" text-anchor="start" font-style="italic">md</text>
<text transform="translate(1063.80,209.60) scale(1,1.04)" font-family="Liberation Serif, Times New Roman, serif" font-size="27.5" text-anchor="start">=</text>
<text transform="translate(1089.30,209.10) scale(1,1.04)" font-family="Liberation Serif, Times New Roman, serif" font-size="24" text-anchor="start" textLength="69.0" lengthAdjust="spacingAndGlyphs">0.9177</text>
<text transform="translate(1162.60,209.60) scale(1,1.04)" font-family="Liberation Serif, Times New Roman, serif" font-size="27.5" text-anchor="start">+</text>
<text transform="translate(1185.30,209.10) scale(1,1.04)" font-family="Liberation Serif, Times New Roman, serif" font-size="24" text-anchor="start" textLength="69.5" lengthAdjust="spacingAndGlyphs">0.0078</text>
<text transform="translate(1254.60,209.60) scale(1,1.04)" font-family="Liberation Serif, Times New Roman, serif" font-size="25" text-anchor="start">×</text>
<line x1="1275.5" y1="188" x2="1275.5" y2="216" stroke="#111" stroke-width="1.7"/>
<line x1="1304.5" y1="188" x2="1304.5" y2="216" stroke="#111" stroke-width="1.7"/>
<text transform="translate(1278.40,208.50) scale(1,1.04)" font-family="Liberation Serif, Times New Roman, serif" font-size="22" text-anchor="start" font-style="italic">P</text>
<text transform="translate(1290.50,214.00) scale(1,1.04)" font-family="Liberation Serif, Times New Roman, serif" font-size="15" text-anchor="start" font-style="italic">f</text>
<text transform="translate(1324,209.1) scale(1,1.04)" font-family="Liberation Serif, Times New Roman, serif" font-size="21.5" textLength="227.5" lengthAdjust="spacingAndGlyphs">(<tspan font-style="italic">r</tspan> = 0.8677; <tspan font-style="italic">P</tspan> &lt; 0.0001)</text>
<text transform="translate(980.5,259) scale(1,1.04)" font-family="Liberation Serif, Times New Roman, serif" font-size="22.5" textLength="76.5" lengthAdjust="spacingAndGlyphs"><tspan font-style="italic">P</tspan>- value</text>
<text transform="translate(1082.60,259.20) scale(1,1.04)" font-family="Liberation Serif, Times New Roman, serif" font-size="22.5" text-anchor="start" textLength="79.6" lengthAdjust="spacingAndGlyphs">&lt; 0.0001</text>
<text transform="translate(1180.50,259.20) scale(1,1.04)" font-family="Liberation Serif, Times New Roman, serif" font-size="22.5" text-anchor="start" textLength="75.9" lengthAdjust="spacingAndGlyphs">&lt;0.0001</text>
</svg></body></html>
